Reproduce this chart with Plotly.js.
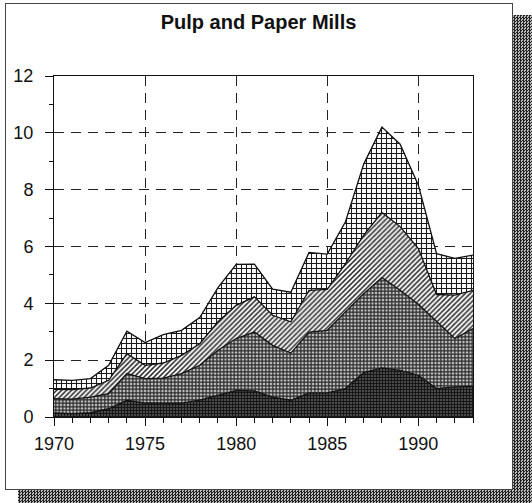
<!DOCTYPE html>
<html>
<head>
<meta charset="utf-8">
<script src="https://cdn.plot.ly/plotly-3.0.1.min.js"></script>
<style>
  body { margin: 0; background: #fff; }
  #shadow {
    position: absolute; left: 18px; top: 15px; width: 514px; height: 488px;
    background-image: repeating-conic-gradient(#222 0 25%, #bbb 0 50%);
    background-size: 3px 3px;
  }
  #frame {
    position: absolute; left: 5px; top: 3px; width: 506px; height: 485px;
    background: #fff; border: 1px solid #444;
  }
  #chart { position: absolute; left: 0; top: 0; width: 532px; height: 503px; }
</style>
</head>
<body>
<div id="shadow"></div>
<div id="frame"></div>
<div id="chart"></div>
<script>
var years = [];
for (var y = 1970; y <= 1993; y++) years.push(y);

// layer values (each is the thickness of its band)
var layer1 = [0.14, 0.12, 0.15, 0.29, 0.59, 0.49, 0.49, 0.49, 0.59, 0.76, 0.94, 0.92,
              0.70, 0.59, 0.85, 0.85, 1.00, 1.56, 1.73, 1.64, 1.47, 1.00, 1.06, 1.08];
var layer2 = [0.51, 0.51, 0.55, 0.53, 0.94, 0.86, 0.88, 1.04, 1.23, 1.59, 1.82, 2.07,
              1.82, 1.66, 2.14, 2.20, 2.70, 2.78, 3.18, 2.82, 2.50, 2.35, 1.70, 2.03];
var layer3 = [0.32, 0.33, 0.32, 0.47, 0.70, 0.47, 0.53, 0.64, 0.76, 1.00, 1.17, 1.24,
              1.06, 1.10, 1.47, 1.44, 1.70, 2.06, 2.29, 2.24, 1.96, 0.96, 1.53, 1.35];
var layer4 = [0.34, 0.33, 0.33, 0.53, 0.79, 0.80, 1.00, 0.88, 0.92, 1.20, 1.44, 1.15,
              0.92, 1.04, 1.33, 1.24, 1.47, 2.50, 3.00, 2.90, 2.23, 1.44, 1.29, 1.24];

function band(vals, pattern) {
  return {
    x: years, y: vals, type: 'scatter', mode: 'lines', stackgroup: 'one',
    line: {color: '#111', width: 1.3},
    fillcolor: pattern.bgcolor,
    fillpattern: pattern,
    hoverinfo: 'skip'
  };
}

var data = [
  band(layer1, {shape: '+', bgcolor: '#4a4a4a', fgcolor: '#161616', size: 3, solidity: 0.55}),
  band(layer2, {shape: '+', bgcolor: '#c8c8c8', fgcolor: '#2a2a2a', size: 3.5, solidity: 0.6}),
  band(layer3, {shape: '/', bgcolor: '#fff', fgcolor: '#2a2a2a', size: 3.5, solidity: 0.45}),
  band(layer4, {shape: '+', bgcolor: '#fff', fgcolor: '#1a1a1a', size: 5, solidity: 0.38})
];

var layout = {
  width: 532, height: 503,
  margin: {l: 54, r: 59, t: 76, b: 86},
  paper_bgcolor: 'rgba(0,0,0,0)',
  plot_bgcolor: '#fff',
  showlegend: false,
  font: {family: 'Liberation Sans, Arial, sans-serif', size: 18, color: '#111'},
  title: {
    text: '<b>Pulp and Paper Mills</b>',
    font: {size: 20, color: '#111'},
    x: 0.486, xanchor: 'center', y: 0.956, yanchor: 'middle'
  },
  xaxis: {
    range: [1970, 1993], tickvals: [1970, 1975, 1980, 1985, 1990],
    ticks: 'outside', ticklen: 8, tickcolor: '#111', tickwidth: 1,
    minor: {dtick: 1, tick0: 1970, ticks: 'outside', ticklen: 5, tickcolor: '#111', showgrid: false},
    showline: true, linecolor: '#111', linewidth: 1, mirror: true,
    showgrid: true, gridcolor: '#222', gridwidth: 1, griddash: '10px,7px',
    zeroline: false, ticklabelstandoff: 2
  },
  yaxis: {
    range: [0, 12], dtick: 2,
    ticks: 'outside', ticklen: 8, tickcolor: '#111', tickwidth: 1,
    minor: {dtick: 1, ticks: 'outside', ticklen: 4, tickcolor: '#111', showgrid: false},
    showline: true, linecolor: '#111', linewidth: 1, mirror: true,
    showgrid: true, gridcolor: '#222', gridwidth: 1, griddash: '10px,7px',
    zeroline: false, ticklabelstandoff: 8
  }
};

Plotly.newPlot('chart', data, layout, {displayModeBar: false, staticPlot: true});
</script>
</body>
</html>
